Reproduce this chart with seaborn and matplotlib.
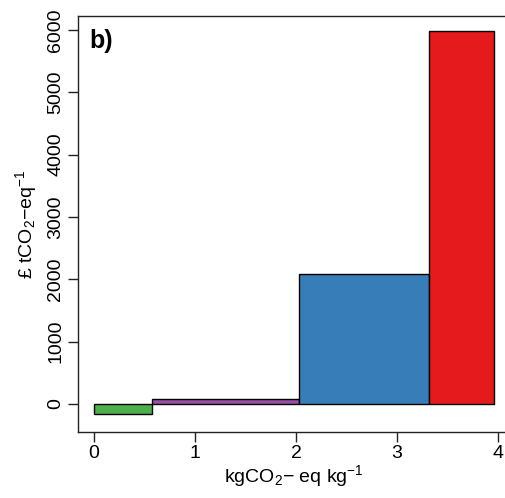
import seaborn as sns
import matplotlib.pyplot as plt

# marginal abatement style bars: width = abatement, height = cost
widths = [0.57, 1.46, 1.29, 0.64]
costs = [-160, 80, 2090, 5990]
colors = ["#4DAF4A", "#984EA3", "#377EB8", "#E41A1C"]
xticks = [0, 1, 2, 3, 4]
yticks = [0, 1000, 2000, 3000, 4000, 5000, 6000]

sns.set_theme(style="ticks")
plt.rcParams["font.family"] = ["Liberation Sans", "DejaVu Sans"]
plt.rcParams["mathtext.default"] = "regular"
plt.rcParams["text.color"] = "black"
plt.rcParams["axes.labelcolor"] = "black"

fig = plt.figure(figsize=(5.06, 4.98), dpi=100)
ax = fig.add_axes([0.154, 0.1325, 0.854, 0.8355])

left = 0
for w, c, col in zip(widths, costs, colors):
    ax.bar(left, c, width=w, align="edge", color=col, edgecolor="black", linewidth=1)
    left += w

ax.set_xlim(-0.16, 4.12)
ax.set_ylim(-449, 6225)
ax.set_xticks(xticks)
ax.set_yticks(yticks)
ax.set_yticklabels([str(v) for v in yticks], rotation=90, va="center")
ax.tick_params(axis="both", labelsize=14, length=7, width=1, color="#222222", colors="black")
ax.tick_params(axis="y", pad=3)
ax.tick_params(axis="x", pad=2)
for s in ax.spines.values():
    s.set_color("#222222")
    s.set_linewidth(1)

ax.set_xlabel(r"kgCO$_2$$-$ eq kg$^{-1}$", fontsize=14, labelpad=1)
ax.set_ylabel(r"£ tCO$_2$$-$eq$^{-1}$", fontsize=14, labelpad=6)
ax.text(-0.05, 5820, "b)", fontsize=18, fontweight="bold", va="center", ha="left", color="black")

fig.savefig("out.png", dpi=100)
